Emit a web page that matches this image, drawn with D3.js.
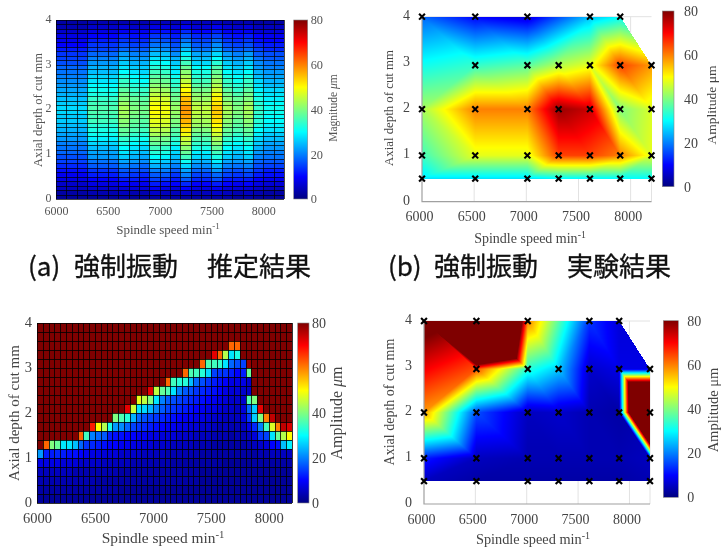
<!DOCTYPE html>
<html><head><meta charset="utf-8">
<script src="https://cdn.jsdelivr.net/npm/d3@7/dist/d3.min.js"></script>
<style>
html,body{margin:0;padding:0;background:#fff}
svg{display:block;filter:blur(.45px)}
text{font-family:"Liberation Serif",serif}
.cap text,text.cap{font-family:"Noto Sans CJK JP",sans-serif}
</style></head><body><svg id="c" width="723" height="550"></svg>
<script>
// ---------- data ----------
const cbTicks=[0,20,40,60,80];
const xTicks=[6000,6500,7000,7500,8000];
const yTicks=[0,1,2,3,4];
const captions=[["(a)","強制振動","推定結果"],["(b)","強制振動","実験結果"]];

// (a) forced vibration estimate: 22 speeds x 40 depth cells, listed top row first
const speedsA=[6000,6100,6200,6300,6400,6500,6600,6700,6800,6900,7000,7100,7200,7300,7400,7500,7600,7700,7800,7900,8000,8100];
const depthStepA=0.1, speedStepA=100;
const magnitudeA=[
[3,3,3,4,4,4,4,4,4,5,5,4,6,5,5,5,4,4,4,3,3,3],
[4,4,4,6,6,6,7,6,6,8,8,7,9,7,7,9,7,6,7,5,5,5],
[6,6,6,8,8,8,9,9,9,11,11,9,13,10,10,12,9,9,9,7,7,7],
[8,8,8,10,10,10,12,11,11,14,14,12,16,13,13,15,12,11,12,10,9,9],
[9,9,9,12,12,12,14,13,13,17,16,14,19,15,15,18,14,13,14,11,10,10],
[10,10,10,14,14,14,16,15,15,19,19,16,22,17,17,21,16,15,16,13,12,12],
[12,12,12,15,15,15,18,17,17,22,21,18,25,19,19,23,18,17,18,15,13,13],
[14,14,14,18,18,18,22,20,20,25,25,21,29,23,23,27,22,20,22,17,16,16],
[15,15,15,20,20,20,24,22,22,28,27,24,32,25,25,30,24,22,24,19,17,17],
[16,16,16,22,22,22,26,24,24,31,30,26,35,27,27,33,26,24,26,21,19,19],
[18,18,18,24,24,24,28,26,26,33,32,28,38,30,30,36,28,26,28,22,20,20],
[19,19,19,25,25,25,30,28,27,35,34,29,41,32,32,38,30,28,30,24,22,22],
[20,20,20,27,27,27,32,30,29,37,36,31,43,33,33,40,32,30,32,25,23,23],
[21,21,21,28,28,28,34,31,30,39,38,33,45,35,35,42,34,31,34,27,24,24],
[22,22,22,30,30,30,35,33,32,41,40,34,48,37,37,44,35,33,35,28,25,25],
[23,23,23,31,31,31,37,34,34,43,42,36,50,39,39,46,37,34,37,29,27,27],
[24,24,24,32,32,32,39,36,35,45,44,38,52,41,41,49,39,36,39,31,28,28],
[25,25,25,34,34,34,40,38,37,47,46,39,55,42,42,51,40,38,40,32,29,29],
[26,26,26,35,35,35,42,39,38,49,48,41,56,44,44,52,42,39,42,33,30,30],
[27,27,27,36,36,36,43,40,39,50,49,42,58,45,45,54,43,40,43,34,31,31],
[27,27,27,36,36,36,43,40,39,50,49,42,58,45,45,54,43,40,43,34,31,31],
[26,26,26,35,35,35,42,39,38,49,48,41,57,44,44,53,42,39,42,33,30,30],
[26,26,26,35,35,35,41,38,37,48,47,40,56,43,43,52,41,38,41,33,30,30],
[25,25,25,33,33,33,40,37,36,47,46,39,54,42,42,50,40,37,40,32,29,29],
[24,24,24,32,32,32,38,36,35,45,44,37,52,40,40,48,38,36,38,30,28,28],
[23,23,23,31,31,31,37,34,33,43,42,36,49,38,38,46,37,34,37,29,26,26],
[22,22,22,29,29,29,34,32,31,40,39,34,46,36,36,43,34,32,34,27,25,25],
[20,20,20,27,27,27,32,30,29,38,37,32,44,34,34,41,32,30,32,26,23,23],
[19,19,19,25,25,25,30,28,27,35,34,29,41,32,32,38,30,28,30,24,22,22],
[18,18,18,23,23,23,28,26,25,33,32,27,38,29,29,35,28,26,28,22,20,20],
[16,16,16,22,22,22,26,24,23,30,29,25,35,27,27,32,26,24,26,20,19,19],
[15,15,15,19,19,19,23,22,21,27,26,23,31,24,24,29,23,22,23,18,17,17],
[13,13,13,17,17,17,20,19,18,24,23,20,27,21,21,25,20,19,20,16,15,15],
[11,11,11,14,14,14,17,16,16,20,20,17,23,18,18,22,17,16,17,14,12,12],
[9,9,9,12,12,12,15,14,13,17,17,14,20,15,15,18,15,14,15,12,11,11],
[8,8,8,10,10,10,12,12,11,15,14,12,17,13,13,16,12,12,12,10,9,9],
[6,6,6,8,8,8,10,9,9,12,11,10,13,10,10,12,10,9,10,8,7,7],
[5,5,5,6,6,6,7,7,7,9,8,7,10,8,8,9,7,7,7,6,5,5],
[3,3,3,4,4,4,5,4,4,6,5,5,6,5,5,6,5,4,5,4,3,3],
[2,2,2,2,2,2,3,2,2,3,3,3,3,3,3,3,3,2,3,2,2,2]];

// (c) stability: 44 speeds x 20 depth cells, listed top row first
const speedsC=[6000,6050,6100,6150,6200,6250,6300,6350,6400,6450,6500,6550,6600,6650,6700,6750,6800,6850,6900,6950,7000,7050,7100,7150,7200,7250,7300,7350,7400,7450,7500,7550,7600,7650,7700,7750,7800,7850,7900,7950,8000,8050,8100,8150];
const depthStepC=0.2, speedStepC=50;
const amplitudeC=[
[80,80,80,80,80,80,80,80,80,80, 80,80,80,80,80,80,80,80,80,80, 80,80,80,80,80,80,80,80,80,80, 80,80,80,80,80,80,80,80,80,80, 80,80,80,80],
[80,80,80,80,80,80,80,80,80,80, 80,80,80,80,80,80,80,80,80,80, 80,80,80,80,80,80,80,80,80,80, 80,80,80,80,80,80,80,80,80,80, 80,80,80,80],
[80,80,80,80,80,80,80,80,80,80, 80,80,80,80,80,80,80,80,80,80, 80,80,80,80,80,80,80,80,80,80, 80,80,80,62,62,80,80,80,80,80, 80,80,80,80],
[80,80,80,80,80,80,80,80,80,80, 80,80,80,80,80,80,80,80,80,80, 80,80,80,80,80,80,80,80,80,80, 72,62,44,28,32,80,80,80,80,80, 80,80,80,80],
[80,80,80,80,80,80,80,80,80,80, 80,80,80,80,80,80,80,80,80,80, 80,80,80,80,80,80,80,80,62,36, 35,34,28,18,16,15,78,80,80,80, 80,80,80,80],
[80,80,80,80,80,80,80,80,80,80, 80,80,80,80,80,80,80,80,80,80, 80,80,80,80,80,62,36,35,33,27, 15,14,14,12,10,12,38,80,80,80, 80,80,80,80],
[80,80,80,80,80,80,80,80,80,80, 80,80,80,80,80,80,80,80,80,80, 80,80,62,35,33,33,25,18,16,14, 12,11,10,8,8,8,6,80,80,80, 80,80,80,80],
[80,80,80,80,80,80,80,80,80,80, 80,80,80,80,80,80,80,80,80,72, 45,38,36,28,20,17,16,14,13,12, 11,10,8,7,7,6,6,80,80,80, 80,80,80,80],
[80,80,80,80,80,80,80,80,80,80, 80,80,80,80,80,80,80,48,45,40, 28,20,17,16,15,14,13,12,11,10, 9,8,7,6,6,6,36,40,80,80, 80,80,80,80],
[80,80,80,80,80,80,80,80,80,80, 80,80,80,80,80,72,46,28,27,24, 20,17,15,14,13,12,11,10,9,8, 8,7,6,6,5,7,18,26,72,80, 80,80,80,80],
[80,80,80,80,80,80,80,80,80,80, 80,80,80,40,36,33,24,18,16,15, 14,13,12,11,10,9,9,8,8,7, 6,6,5,5,5,7,14,26,40,60, 75,80,80,80],
[80,80,80,80,80,80,80,80,80,68, 50,44,32,22,21,18,15,14,13,12, 11,10,9,9,8,8,7,7,6,6, 5,4,5,4,4,5,8,13,20,35, 47,60,75,73],
[80,80,80,80,80,80,80,62,35,20, 18,17,12,11,11,10,10,9,9,8, 8,7,7,7,6,6,6,5,5,5, 4,4,4,3,4,4,5,7,14,15, 28,38,44,50],
[80,62,40,38,28,28,25,18,14,13, 12,11,10,10,9,9,8,8,7,7, 6,6,6,5,5,5,5,4,4,4, 3,3,3,3,3,3,4,5,6,7, 10,11,25,29],
[22,12,12,13,12,11,11,10,9,8, 8,7,7,7,6,6,6,6,5,5, 5,5,4,4,4,4,4,4,3,3, 3,3,3,3,3,3,3,3,4,4, 5,5,5,5],
[8,8,8,8,7,7,7,6,6,6, 6,5,5,5,5,5,4,4,4,4, 4,4,4,3,3,3,3,3,3,3, 3,3,2,2,2,2,2,3,3,3, 3,3,3,3],
[5,5,5,5,5,5,4,4,4,4, 4,4,4,4,3,3,3,3,3,3, 3,3,3,3,3,3,3,3,2,2, 2,2,2,2,2,2,2,2,2,2, 2,2,2,2],
[4,4,4,4,4,4,4,4,4,4, 3,3,3,3,3,3,3,3,3,3, 3,3,3,3,3,3,3,3,2,2, 2,2,2,2,2,2,2,2,2,2, 2,2,2,2],
[3,3,3,3,3,3,3,3,3,3, 3,3,3,3,2,2,2,2,2,2, 2,2,2,2,2,2,2,2,2,2, 2,2,2,2,2,2,2,2,2,2, 2,2,2,2],
[2,2,2,2,2,2,2,2,2,2, 2,2,2,2,2,2,2,2,2,2, 2,2,2,2,2,2,2,2,2,2, 2,2,2,2,2,2,2,2,2,2, 2,2,2,2]];

// (b),(d) measured amplitudes at test points; rows are depths 0.5,1,2,2.95,4; null = no test
const testSpeeds=[6000,6510,7010,7310,7610,7900,8200];
const testDepths=[0.5,1,2,2.95,4];
const amplitudeB=[
[28,28,28,30,30,30,30],
[35,48,48,65,65,60,48],
[43,60,60,78,74,40,47],
[null,34,37,44,48,65,58],
[18,10,7,null,25,30,null]];
const amplitudeD=[
[5,3,3,3,3,3,4],
[12,5,4,4,4,4,5],
[58,16,5,6,4,3,250],
[null,64,33,26,6,8,8],
[85,247,60,null,14,7,null]];
// triangles of the measured mesh, as [speed index, depth index] corners
const meshTriangles=[
[[0,0],[1,0],[1,1]],[[0,0],[0,1],[1,1]],[[1,0],[2,0],[2,1]],[[1,0],[1,1],[2,1]],
[[2,0],[3,0],[3,1]],[[2,0],[2,1],[3,1]],[[3,0],[4,0],[4,1]],[[3,0],[3,1],[4,1]],
[[4,0],[5,0],[5,1]],[[4,0],[4,1],[5,1]],[[5,0],[6,0],[6,1]],[[5,0],[5,1],[6,1]],
[[0,1],[1,1],[0,2]],[[1,1],[1,2],[0,2]],[[1,1],[2,1],[1,2]],[[2,1],[2,2],[1,2]],
[[2,1],[3,1],[2,2]],[[3,1],[3,2],[2,2]],[[3,1],[4,1],[3,2]],[[4,1],[4,2],[3,2]],
[[4,1],[5,1],[4,2]],[[5,1],[5,2],[4,2]],[[5,1],[6,1],[5,2]],[[6,1],[6,2],[5,2]],
[[0,2],[1,2],[1,3]],[[0,2],[1,3],[0,4]],
[[1,2],[2,2],[1,3]],[[2,2],[2,3],[1,3]],[[2,2],[3,2],[2,3]],[[3,2],[3,3],[2,3]],
[[3,2],[4,2],[3,3]],[[4,2],[4,3],[3,3]],[[4,2],[5,2],[4,3]],[[5,2],[5,3],[4,3]],
[[5,2],[6,2],[5,3]],[[6,2],[6,3],[5,3]],
[[0,4],[1,3],[1,4]],[[1,4],[1,3],[2,3]],[[1,4],[2,3],[2,4]],[[2,4],[2,3],[3,3]],
[[2,4],[3,3],[4,4]],[[3,3],[4,3],[4,4]],[[4,4],[4,3],[5,3]],[[4,4],[5,3],[5,4]],[[5,4],[5,3],[6,3]]];

// ---------- drawing ----------
const jet=d3.scaleLinear().domain([0,10,30,50,70,80])
  .range(["#00007f","#0000ff","#00ffff","#ffff00","#ff0000","#7f0000"]).clamp(true);
const svg=d3.select("#c");
const grad=svg.append("defs").append("linearGradient").attr("id","jetBar")
  .attr("x1",0).attr("x2",0).attr("y1",1).attr("y2",0);
jet.domain().forEach(v=>grad.append("stop").attr("offset",v/80).attr("stop-color",jet(v)));

function muLabel(t,base,ital){
  t.append("tspan").text(base+" ");
  t.append("tspan").attr("font-style",ital?"italic":"normal").text("μ");
  t.append("tspan").text("m");
}
function axes(g,o){
  const x=d3.scaleLinear().domain([6000,8200]).range(o.xr);
  const y=d3.scaleLinear().domain([0,4]).range(o.yr);
  return {x,y};
}
function decorate(o,x,y){
  const gx=svg.append("g").attr("transform",`translate(${o.xShift||0},${o.yr[0]})`)
    .call(d3.axisBottom(x).tickValues(xTicks).tickFormat(d3.format("d")).tickSize(0).tickPadding(o.xPad));
  const gy=svg.append("g").attr("transform",`translate(${o.xr[0]},${o.yShift||0})`)
    .call(d3.axisLeft(y).tickValues(yTicks).tickFormat(d3.format("d")).tickSize(0).tickPadding(o.yPad));
  [gx,gy].forEach(g=>{g.select(".domain").remove();
    g.selectAll("text").attr("font-family","Liberation Serif").attr("font-size",o.tick).attr("fill",o.col);});
  svg.append("text").attr("font-size",o.ylabel[2]).attr("fill",o.col).attr("text-anchor","middle")
    .attr("transform",`translate(${o.ylabel[0]},${o.ylabel[1]}) rotate(-90)`).text("Axial depth of cut mm");
  const xl=svg.append("text").attr("font-size",o.xlabel[2]).attr("fill",o.col).attr("text-anchor","middle")
    .attr("x",o.xlabel[0]).attr("y",o.xlabel[1]);
  xl.append("tspan").text("Spindle speed min");
  xl.append("tspan").attr("font-size",o.xlabel[2]*0.7).attr("dy",-o.xlabel[2]*0.35).text("-1");
  // colour bar
  const cb=o.cb, s=d3.scaleLinear().domain([0,80]).range([cb.y1,cb.y0]);
  svg.append("rect").attr("x",cb.x0).attr("y",cb.y0).attr("width",cb.x1-cb.x0).attr("height",cb.y1-cb.y0)
    .attr("fill","url(#jetBar)").attr("stroke","#888").attr("stroke-width",.6);
  const ga=svg.append("g").attr("transform",`translate(${cb.x1},0)`)
    .call(d3.axisRight(s).tickValues(cbTicks).tickSize(0).tickPadding(cb.pad));
  ga.select(".domain").remove();
  ga.selectAll("text").attr("font-family","Liberation Serif").attr("font-size",cb.font).attr("fill",o.col);
  const t=svg.append("text").attr("font-size",cb.lab[2]).attr("fill",o.col).attr("text-anchor","middle")
    .attr("transform",`translate(${cb.lab[0]},${cb.lab[1]}) rotate(-90)`);
  muLabel(t,cb.name,cb.ital);
}
function heat(o,rows,speeds,ds,dv){
  const {x,y}=axes(svg,o);
  const cells=rows.flatMap((r,i)=>r.map((v,j)=>({v,s:speeds[j],d:4-ds*i})));
  svg.append("g").attr("shape-rendering","crispEdges").selectAll("rect").data(cells).join("rect")
    .attr("x",d=>x(d.s)).attr("y",d=>y(d.d))
    .attr("width",d=>x(d.s+dv)-x(d.s)).attr("height",d=>y(d.d-ds)-y(d.d))
    .attr("fill",d=>jet(d.v));
  // cell borders, each snapped to one pixel row or column
  const snap=v=>Math.round(v)+.5;
  const edges=svg.append("g").attr("stroke","#000").attr("stroke-width",1).attr("stroke-opacity",o.lineOp);
  edges.selectAll("line.c").data(speeds.concat(8200)).join("line").attr("class","c")
    .attr("x1",d=>snap(x(d))).attr("x2",d=>snap(x(d))).attr("y1",o.yr[1]).attr("y2",o.yr[0]);
  edges.selectAll("line.r").data(rows.map((r,i)=>4-ds*i).concat(0)).join("line").attr("class","r")
    .attr("y1",d=>snap(y(d))).attr("y2",d=>snap(y(d))).attr("x1",o.xr[0]).attr("x2",o.xr[1]);
  decorate(o,x,y);
}
function mesh(o,table){
  const {x,y}=axes(svg,o);
  const W=Math.ceil(o.xr[1])+2,H=Math.ceil(o.yr[0])+2;
  const cv=document.createElement("canvas");cv.width=W;cv.height=H;
  const c2=cv.getContext("2d"),img=c2.createImageData(W,H);
  meshTriangles.forEach(tr=>{
    const p=tr.map(([i,j])=>({px:x(testSpeeds[i]),py:y(testDepths[j]),v:table[j][i]}));
    const [A,B,C]=p,den=(B.py-C.py)*(A.px-C.px)+(C.px-B.px)*(A.py-C.py);
    const x0=Math.floor(d3.min(p,d=>d.px)),x1=Math.ceil(d3.max(p,d=>d.px));
    const y0=Math.floor(d3.min(p,d=>d.py)),y1=Math.ceil(d3.max(p,d=>d.py));
    for(let py=y0;py<=y1;py++)for(let px=x0;px<=x1;px++){
      const X=px+.5,Y=py+.5;
      const a=((B.py-C.py)*(X-C.px)+(C.px-B.px)*(Y-C.py))/den;
      const b=((C.py-A.py)*(X-C.px)+(A.px-C.px)*(Y-C.py))/den;
      const c=1-a-b;
      if(a<-1e-3||b<-1e-3||c<-1e-3||px<0||py<0||px>=W||py>=H)continue;
      const col=d3.rgb(jet(a*A.v+b*B.v+c*C.v)),k=(py*W+px)*4;
      img.data[k]=col.r;img.data[k+1]=col.g;img.data[k+2]=col.b;img.data[k+3]=255;
    }
  });
  c2.putImageData(img,0,0);
  // grid behind the surface
  const grid=svg.append("g").attr("stroke","#e2e2e2").attr("stroke-width",1);
  grid.selectAll("line.v").data(xTicks.slice(1)).join("line").attr("class","v")
    .attr("x1",d=>x(d)).attr("x2",d=>x(d)).attr("y1",o.yr[1]).attr("y2",o.yr[0]);
  grid.append("line").attr("x1",o.xr[0]).attr("x2",o.xr[1]).attr("y1",o.yr[1]).attr("y2",o.yr[1]);
  grid.append("line").attr("x1",o.xr[1]).attr("x2",o.xr[1]).attr("y1",y(3)).attr("y2",o.yr[0]);
  svg.append("image").attr("x",0).attr("y",0).attr("width",W).attr("height",H).attr("href",cv.toDataURL());
  svg.append("path").attr("fill","none").attr("stroke","#a0a0a0").attr("stroke-width",1.2)
    .attr("d",d3.line()([[o.xr[0],o.yr[1]],[o.xr[0],o.yr[0]],[o.xr[1],o.yr[0]]]));
  const nodes=table.flatMap((r,j)=>r.map((v,i)=>({v,s:testSpeeds[i],d:testDepths[j]}))).filter(d=>d.v!==null);
  svg.append("g").selectAll("path").data(nodes).join("path")
    .attr("d",d3.symbol(d3.symbolTimes,24))
    .attr("transform",d=>`translate(${x(d.s)},${y(d.d)})`)
    .attr("fill","none").attr("stroke","#000").attr("stroke-width",2.1);
  decorate(o,x,y);
}

heat({xr:[56,284],yr:[199,20],lineOp:.72,xPad:7.5,yPad:4.5,yShift:-1.5,tick:12,col:"#555",
  ylabel:[42,110,12.6],xlabel:[168,234,13],
  cb:{x0:293.7,x1:307.7,y0:20,y1:199,pad:3,font:12.3,lab:[337,108,11.5],name:"Magnitude",ital:true}},
  magnitudeA,speedsA,depthStepA,speedStepA);
heat({xr:[37,292],yr:[503,323],lineOp:.8,xPad:9.5,yPad:5,yShift:-1,tick:14.5,col:"#444",
  ylabel:[19,413,15],xlabel:[163,543,15.4],
  cb:{x0:297.7,x1:309,y0:323,y1:503,pad:3,font:14,lab:[342,413,16],name:"Amplitude",ital:true}},
  amplitudeC,speedsC,depthStepC,speedStepC);
mesh({xr:[422,651.5],yr:[201.7,16.7],xPad:9.5,yPad:12,xShift:-3,yShift:-2,tick:14,col:"#444",
  ylabel:[393,108,12.8],xlabel:[530,243,14],
  cb:{x0:662.3,x1:674,y0:11,y1:186.7,pad:10,font:14,lab:[716,105,13.5],name:"Amplitude",ital:false}},
  amplitudeB);
mesh({xr:[424,650],yr:[504,321],xPad:10,yPad:12,xShift:-3,yShift:-2,tick:14,col:"#444",
  ylabel:[394,402,14],xlabel:[533,544,14.3],
  cb:{x0:663.3,x1:678.3,y0:320.7,y1:497.3,pad:9,font:14,lab:[718,410,14.5],name:"Amplitude",ital:false}},
  amplitudeD);

// captions
const capX=[[28,74,207],[388,434,567]];
captions.forEach((c,i)=>{
  const t=svg.append("text").attr("class","cap").attr("font-size",26).attr("fill","#111")
    .attr("stroke","#111").attr("stroke-width",.35).attr("y",276);
  c.forEach((s,k)=>t.append("tspan").attr("x",capX[i][k]).attr("font-family","Noto Sans CJK JP").text(s));
});
</script></body></html>
